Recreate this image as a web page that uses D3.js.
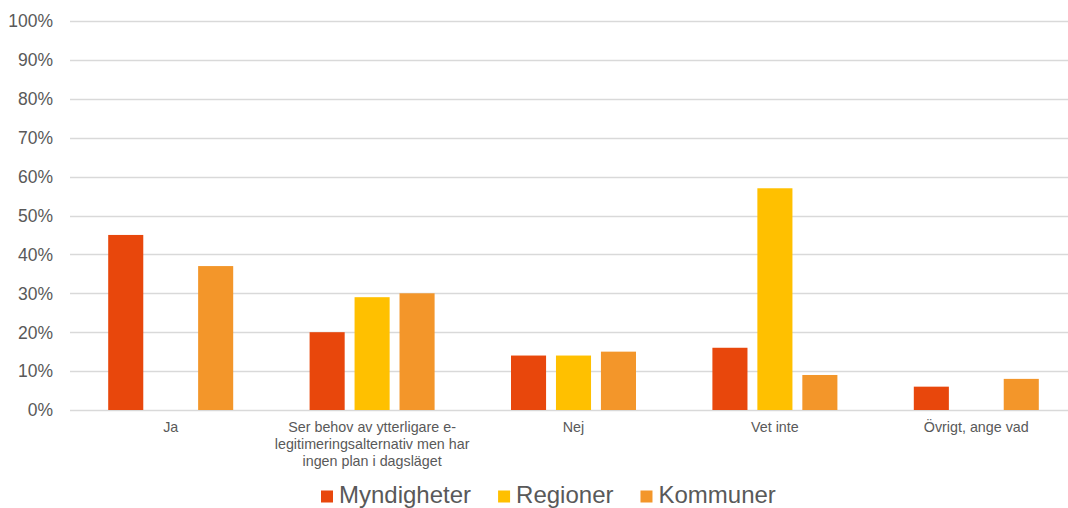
<!DOCTYPE html>
<meta charset="utf-8">
<html>
<head>
<style>
  body { margin: 0; background: #fff; }
  svg { display: block; font-family: "Liberation Sans", Arial, sans-serif; }
  .grid line { stroke: #d9d9d9; stroke-width: 1.3px; }
  .ytick text { fill: #595959; font-size: 17.5px; }
  .xtick text { fill: #595959; font-size: 14.3px; }
  .legend text { fill: #595959; font-size: 24px; }
</style>
</head>
<body>
<svg width="1068" height="508"></svg>
<script src="https://cdn.jsdelivr.net/npm/d3@7"></script>
<script>
// category labels, already split into lines the way the original wraps them
var categories = ["Ja", "Ser behov", "Nej", "Vet inte", "Övrigt"];
var categoryLines = [
  ["Ja"],
  ["Ser behov av ytterligare e-", "legitimeringsalternativ men har", "ingen plan i dagsläget"],
  ["Nej"],
  ["Vet inte"],
  ["Övrigt, ange vad"]
];
var seriesNames = ["Myndigheter", "Regioner", "Kommuner"];
var seriesColors = ["#e8470c", "#ffc000", "#f3962a"];

// percent values per category
var myndigheter = [45, 20, 14, 16, 6];
var regioner    = [0, 29, 14, 57, 0];
var kommuner    = [37, 30, 15, 9, 8];
var yTicks = [0, 10, 20, 30, 40, 50, 60, 70, 80, 90, 100];

var svg = d3.select("svg");
// note: "top" is taken by window.top, so plot edges get their own names
var plotLeft = 70, plotRight = 1077, plotTop = 21, plotBottom = 410;

var x = d3.scaleBand().domain(categories).range([plotLeft, plotRight]);
var x1 = d3.scaleBand().domain(seriesNames).range([0, 125]).paddingInner(0.22);
var y = d3.scaleLinear().domain([0, 100]).range([plotBottom, plotTop]);

// gridlines + y labels
var grid = svg.append("g").attr("class", "grid");
grid.selectAll("line").data(yTicks).enter().append("line")
    .attr("x1", plotLeft).attr("x2", plotRight)
    .attr("y1", function(d) { return Math.round(y(d)) + 0.5; })
    .attr("y2", function(d) { return Math.round(y(d)) + 0.5; });

svg.append("g").attr("class", "ytick")
  .selectAll("text").data(yTicks).enter().append("text")
    .attr("x", 53)
    .attr("y", function(d) { return y(d); })
    .attr("dy", "0.36em")
    .attr("text-anchor", "end")
    .text(function(d) { return d + "%"; });

// bars
var rows = categories.map(function(c, i) {
  return { cat: c, vals: [myndigheter[i], regioner[i], kommuner[i]] };
});

var groups = svg.append("g").selectAll("g").data(rows).enter().append("g")
    .attr("transform", function(d) {
      return "translate(" + (x(d.cat) + x.bandwidth() / 2 - 62.5) + ",0)";
    });

groups.selectAll("rect")
  .data(function(d) {
    return d.vals.map(function(v, j) { return { name: seriesNames[j], v: v, j: j }; });
  })
  .enter().filter(function(d) { return d.v > 0; }).append("rect")
    .attr("x", function(d) { return x1(d.name); })
    .attr("width", x1.bandwidth())
    .attr("y", function(d) { return y(d.v); })
    .attr("height", function(d) { return y(0) - y(d.v); })
    .attr("fill", function(d) { return seriesColors[d.j]; });

// category labels
var xt = svg.append("g").attr("class", "xtick")
  .selectAll("text").data(categories).enter().append("text")
    .attr("text-anchor", "middle")
    .attr("y", 432);
xt.each(function(c, i) {
  var t = d3.select(this);
  categoryLines[i].forEach(function(line, k) {
    t.append("tspan")
      .attr("x", x(c) + x.bandwidth() / 2)
      .attr("y", 432 + k * 16.8)
      .text(line);
  });
});

// legend
var legend = svg.append("g").attr("class", "legend");
var lx = 321;
seriesNames.forEach(function(name, i) {
  legend.append("rect")
    .attr("x", lx).attr("y", 490.5)
    .attr("width", 12).attr("height", 12)
    .attr("fill", seriesColors[i]);
  var t = legend.append("text")
    .attr("x", lx + 18).attr("y", 503)
    .text(name);
  lx += 18 + t.node().getComputedTextLength() + 27;
});
</script>
</body>
</html>
